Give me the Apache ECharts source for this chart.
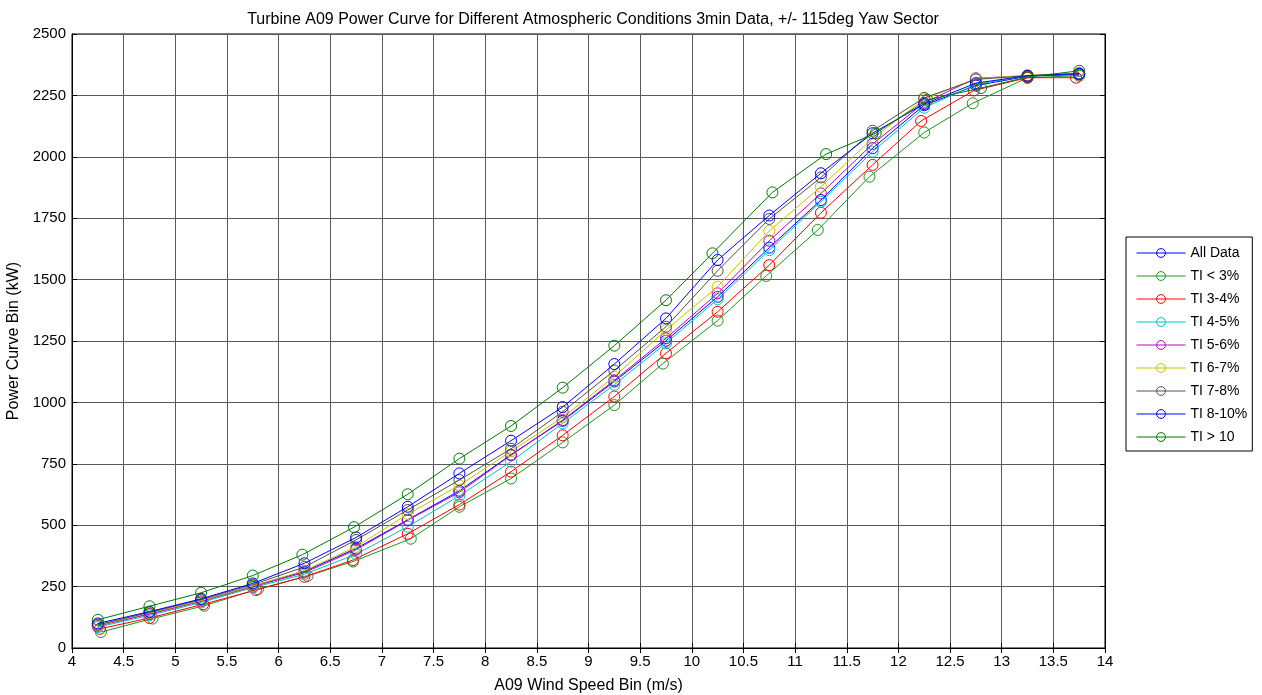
<!DOCTYPE html>
<html>
<head>
<meta charset="utf-8">
<script src="https://cdn.jsdelivr.net/npm/echarts@6/dist/echarts.min.js"></script>
<style>
html,body{margin:0;padding:0;background:#fff;}
#chart{width:1262px;height:695px;}
</style>
</head>
<body>
<div id="chart"></div>
<script>
var titleText = 'Turbine A09 Power Curve for Different Atmospheric Conditions 3min Data, +/- 115deg Yaw Sector';
var xLabel = 'A09 Wind Speed Bin (m/s)';
var yLabel = 'Power Curve Bin (kW)';

var seriesNames = ['All Data', 'TI < 3%', 'TI 3-4%', 'TI 4-5%', 'TI 5-6%', 'TI 6-7%', 'TI 7-8%', 'TI 8-10%', 'TI > 10'];

var xBins   = [4.25,4.75,5.25,5.75,6.25,6.75,7.25,7.75,8.25,8.75,9.25,9.75,10.25,10.75,11.25,11.75,12.25,12.75,13.25,13.75];
var xTiLt3  = [4.28,4.78,5.28,5.80,6.28,6.72,7.28,7.75,8.25,8.75,9.25,9.72,10.25,10.72,11.22,11.72,12.25,12.72,13.25,13.75];
var xTi34   = [4.27,4.75,5.27,5.78,6.25,6.72,7.25,7.75,8.25,8.75,9.25,9.75,10.25,10.75,11.25,11.75,12.22,12.73,13.25,13.72];
var xTiGt10 = [4.25,4.75,5.25,5.75,6.23,6.73,7.25,7.75,8.25,8.75,9.25,9.75,10.20,10.78,11.30,11.78,12.28,12.80,13.25,13.75];

var pAll    = [92,140,192,252,312,405,522,640,787,925,1085,1251,1430,1630,1824,2035,2210,2290,2328,2335];
var pTiLt3  = [65,120,172,240,293,352,445,575,690,837,989,1158,1333,1515,1702,1919,2099,2218,2322,2330];
var pTi34   = [78,122,178,236,290,358,465,584,718,866,1024,1200,1369,1559,1772,1967,2146,2270,2322,2322];
var pTi45   = [85,133,185,246,300,382,494,620,759,915,1072,1241,1420,1620,1817,2021,2200,2295,2330,2338];
var pTi56   = [90,138,190,250,307,400,520,634,785,928,1090,1261,1444,1658,1851,2052,2220,2320,2330,2340];
var pTi67   = [92,142,193,253,315,412,545,662,801,939,1105,1295,1471,1698,1878,2075,2235,2318,2332,2340];
var pTi78   = [95,145,197,258,330,440,562,684,811,962,1130,1308,1536,1747,1916,2106,2240,2315,2330,2338];
var pTi810  = [100,148,200,263,345,450,575,711,844,981,1156,1342,1580,1761,1933,2096,2215,2300,2330,2338];
var pTiGt10 = [115,170,225,295,380,492,626,771,904,1060,1231,1416,1607,1855,2011,2096,2232,2280,2325,2350];

var seriesX = [xBins, xTiLt3, xTi34, xBins, xBins, xBins, xBins, xBins, xTiGt10];
var seriesY = [pAll, pTiLt3, pTi34, pTi45, pTi56, pTi67, pTi78, pTi810, pTiGt10];
var colors  = ['#0000ff', '#1f951f', '#ff0000', '#00c4c4', '#c000c0', '#c4c400', '#505050', '#0000ff', '#007a00'];

function pairs(xs, ys){ return xs.map(function(x,i){ return [x, ys[i]]; }); }

var FONT = '"Liberation Sans", Arial, sans-serif';

var series = seriesNames.map(function(name, i){
  return {
    name: name,
    type: 'line',
    data: pairs(seriesX[i], seriesY[i]),
    symbol: 'circle',
    symbolSize: 11,
    showAllSymbol: true,
    animation: false,
    lineStyle: { color: colors[i], width: 1 },
    itemStyle: { color: 'rgba(255,255,255,0)', borderColor: colors[i], borderWidth: 1 },
    emphasis: { disabled: true },
    z: 2 + i
  };
});

var chart = echarts.init(document.getElementById('chart'));
chart.setOption({
  backgroundColor: '#fff',
  animation: false,
  color: colors,
  title: {
    text: titleText,
    left: 588, textAlign: 'center', top: 7,
    textStyle: { fontFamily: FONT, fontSize: 16, fontWeight: 'normal', color: '#000' }
  },
  legend: {
    orient: 'vertical',
    left: 1126, top: 237,
    padding: [8, 5, 6, 10],
    itemWidth: 49, itemHeight: 11, itemGap: 7,
    backgroundColor: '#fff',
    borderColor: '#000', borderWidth: 1, borderRadius: 0,
    lineStyle: { width: 1 },
    itemStyle: { borderWidth: 1 },
    textStyle: { fontFamily: FONT, fontSize: 14, color: '#000', lineHeight: 16 },
    data: seriesNames
  },
  grid: { left: 72, right: 157, top: 34, bottom: 47, containLabel: false, outerBoundsMode: 'none', show: true, borderColor: '#000', borderWidth: 1, backgroundColor: '#fff' },
  xAxis: [{
    type: 'value', min: 4, max: 14, interval: 0.5,
    name: xLabel, nameLocation: 'middle', nameGap: 30,
    nameTextStyle: { fontFamily: FONT, fontSize: 16, color: '#000' },
    axisLine: { show: true, lineStyle: { color: '#000', width: 1 } },
    axisTick: { show: true, inside: true, length: 5, lineStyle: { color: '#000' } },
    axisLabel: { fontFamily: FONT, fontSize: 15, color: '#000', margin: 6 },
    splitLine: { show: true, lineStyle: { color: '#5a5a5a', width: 1 } }
  }, {
    type: 'value', min: 4, max: 14, interval: 0.5, position: 'top',
    axisLine: { show: true, lineStyle: { color: '#000' } },
    axisTick: { show: true, inside: true, length: 5, lineStyle: { color: '#000' } },
    axisLabel: { show: false }, splitLine: { show: false }
  }],
  yAxis: [{
    type: 'value', min: 0, max: 2500, interval: 250,
    name: yLabel, nameLocation: 'middle', nameGap: 38, nameRotate: 90,
    nameTextStyle: { fontFamily: FONT, fontSize: 16, color: '#000' },
    axisLine: { show: true, lineStyle: { color: '#000', width: 1 } },
    axisTick: { show: true, inside: true, length: 5, lineStyle: { color: '#000' } },
    axisLabel: { fontFamily: FONT, fontSize: 15, color: '#000', margin: 6, formatter: function(v){ return String(v); } },
    splitLine: { show: true, lineStyle: { color: '#5a5a5a', width: 1 } }
  }, {
    type: 'value', min: 0, max: 2500, interval: 250, position: 'right',
    axisLine: { show: true, lineStyle: { color: '#000' } },
    axisTick: { show: true, inside: true, length: 5, lineStyle: { color: '#000' } },
    axisLabel: { show: false }, splitLine: { show: false }
  }],
  series: series
});
</script>
</body>
</html>
